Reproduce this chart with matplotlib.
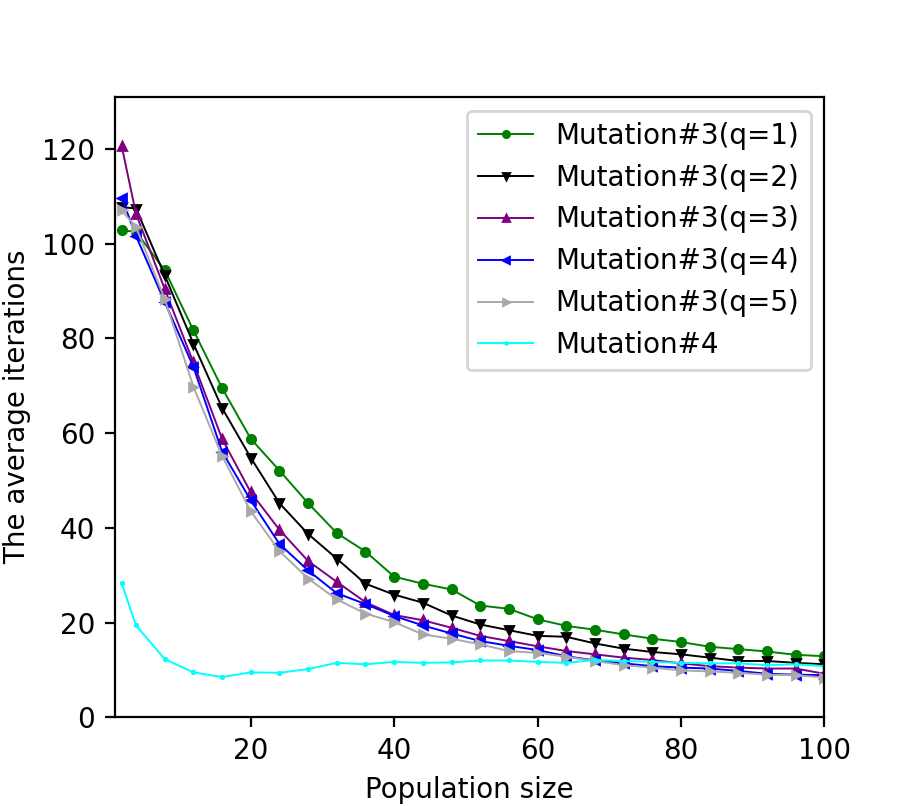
import matplotlib
matplotlib.use('Agg')
import matplotlib.pyplot as plt

# population sizes
pop = [2, 4] + list(range(8, 101, 4))

q1 = [102.8, 102.5, 94.4, 81.7, 69.5, 58.8, 52.1, 45.2, 38.9, 35.0, 29.7, 28.2, 27.0,
      23.6, 22.9, 20.7, 19.3, 18.5, 17.5, 16.6, 15.9, 14.9, 14.4, 13.9, 13.2, 12.9]
q2 = [107.7, 107.4, 93.3, 78.9, 65.3, 54.8, 45.2, 38.7, 33.5, 28.2, 25.9, 24.2, 21.5,
      19.6, 18.4, 17.2, 17.0, 15.6, 14.5, 13.8, 13.3, 12.6, 11.9, 11.9, 11.5, 11.2]
q3 = [120.6, 106.3, 90.4, 74.9, 58.8, 47.5, 39.6, 33.0, 28.6, 24.3, 21.6, 20.5, 18.9,
      17.2, 16.1, 15.0, 14.0, 13.3, 12.6, 12.1, 11.4, 10.8, 10.5, 10.3, 10.3, 9.2]
q4 = [109.7, 101.6, 87.7, 74.0, 56.1, 45.8, 36.6, 31.0, 26.2, 23.9, 21.4, 19.4, 17.7,
      16.1, 15.1, 14.2, 12.9, 12.0, 11.4, 10.8, 10.5, 10.3, 9.8, 9.2, 9.0, 8.9]
q5 = [107.0, 103.5, 88.3, 69.8, 55.2, 43.5, 35.1, 29.3, 24.9, 21.9, 20.1, 17.5, 16.6,
      15.4, 14.0, 13.6, 12.8, 11.9, 11.0, 10.5, 9.9, 9.7, 9.4, 9.0, 8.9, 8.4]
mut4 = [28.3, 19.4, 12.3, 9.5, 8.5, 9.5, 9.4, 10.2, 11.5, 11.2, 11.7, 11.5, 11.6,
        12.0, 12.0, 11.7, 11.5, 12.1, 11.9, 11.7, 11.5, 11.4, 11.4, 11.0, 11.2, 10.8]

fig = plt.figure(figsize=(4.58, 4.03), dpi=200)
lw = 0.7
ms = 3
plt.plot(pop, q1, color='green', marker='o', lw=lw, ms=ms, label='Mutation#3(q=1)')
plt.plot(pop, q2, color='black', marker='v', lw=lw, ms=ms, label='Mutation#3(q=2)')
plt.plot(pop, q3, color='purple', marker='^', lw=lw, ms=ms, label='Mutation#3(q=3)')
plt.plot(pop, q4, color='blue', marker='<', lw=lw, ms=ms, label='Mutation#3(q=4)')
plt.plot(pop, q5, color='darkgray', marker='>', lw=lw, ms=ms, label='Mutation#3(q=5)')
plt.plot(pop, mut4, color='cyan', marker='*', lw=lw, ms=1.5, label='Mutation#4')

plt.xlim(1, 100)
plt.ylim(0, 131)
plt.xlabel('Population size')
plt.ylabel('The average iterations')
plt.legend(loc='upper right', markerscale=0.75)
plt.savefig('out.png', dpi=200)
